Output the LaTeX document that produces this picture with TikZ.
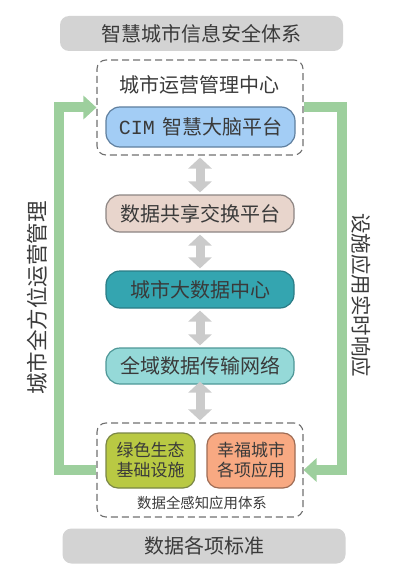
\documentclass[tikz,border=0pt]{standalone}
\usepackage{fontspec}
\setmainfont{Noto Sans CJK SC}
\newfontfamily\cimfont{Liberation Mono}
\usetikzlibrary{positioning,arrows.meta}

\definecolor{bargray}{HTML}{D3D3D3}
\definecolor{txtgray}{HTML}{3A3A3A}
\definecolor{dashgray}{HTML}{707070}
\definecolor{linkgray}{HTML}{CBCBCB}
\definecolor{flowgreen}{HTML}{9DCF9D}
\definecolor{cimblue}{HTML}{A3CDF5}
\definecolor{cimedge}{HTML}{5F7F9E}
\definecolor{sharepink}{HTML}{E8D5CC}
\definecolor{shareedge}{HTML}{8C8583}
\definecolor{datateal}{HTML}{34A5B0}
\definecolor{dataedge}{HTML}{2A7C86}
\definecolor{netcyan}{HTML}{95D9D8}
\definecolor{netedge}{HTML}{4E9797}
\definecolor{ecogreen}{HTML}{B9C943}
\definecolor{ecoedge}{HTML}{7A8646}
\definecolor{apporange}{HTML}{F8A982}
\definecolor{appedge}{HTML}{9E6C55}

\tikzset{
  greybar/.style={fill=bargray, rounded corners=9pt, inner sep=0pt,
    minimum width=283pt, minimum height=35pt, text=txtgray,
    font=\fontsize{20}{24}\selectfont},
  groupbox/.style={draw=dashgray, dashed, dash pattern=on 7pt off 4pt,
    line width=1.1pt, rounded corners=9pt, inner sep=0pt,
    minimum width=206pt},
  layerbox/.style={rounded corners=14pt, line width=1.2pt, inner sep=0pt,
    minimum width=188pt, minimum height=37pt, text=txtgray,
    font=\fontsize{20}{24}\selectfont},
  smallbox/.style={rounded corners=12pt, line width=1.2pt, inner sep=0pt,
    minimum width=89pt, minimum height=55pt, text=txtgray, align=center,
    font=\fontsize{17}{20}\selectfont},
  sidetext/.style={text=txtgray, inner sep=0pt,
    font=\fontsize{20.5}{24}\selectfont},
  link/.style={linkgray, line width=9pt, shorten <=2pt, shorten >=2pt,
    {Triangle[width=23pt,length=11pt]}-{Triangle[width=23pt,length=11pt]}},
  flow/.style={flowgreen, line width=10pt,
    -{Triangle[width=23pt,length=13pt]}}
}

\begin{document}
\begin{tikzpicture}[x=1pt,y=-1pt]
  \useasboundingbox (0,0) rectangle (409,583);

  % top and bottom bars
  \node[greybar] (security) at (201.5,33.5) {智慧城市信息安全体系};
  \node[greybar] (standard) at (204,546) {数据各项标准};

  % operation centre group
  \node[groupbox, minimum height=95pt] (ops) at (200,107.5) {};
  \node[text=txtgray, inner sep=0pt, font=\fontsize{20}{24}\selectfont]
    (opstitle) at (199,85) {城市运营管理中心};
  \node[layerbox, fill=cimblue, draw=cimedge, minimum width=189pt,
    minimum height=40pt] (cim) at (200.5,127)
    {{\cimfont\fontsize{20}{24}\selectfont CIM}\hspace{7pt}智慧大脑平台};

  % middle layers
  \node[layerbox, fill=sharepink, draw=shareedge] (share) at (200,213.5)
    {数据共享交换平台};
  \node[layerbox, fill=datateal, draw=dataedge] (bigdata) at (200,289.5)
    {城市大数据中心};
  \node[layerbox, fill=netcyan, draw=netedge, minimum height=36pt]
    (network) at (200,366) {全域数据传输网络};

  % sensing group
  \node[groupbox, minimum height=94pt] (sense) at (200,470) {};
  \node[smallbox, fill=ecogreen, draw=ecoedge] (eco) at (150.5,460.5)
    {绿色生态\\基础设施};
  \node[smallbox, fill=apporange, draw=appedge, minimum width=88pt]
    (apps) at (251,460.5) {幸福城市\\各项应用};
  \node[text=txtgray, inner sep=0pt, font=\fontsize{14.4}{17}\selectfont]
    (senselabel) at (202,503) {数据全感知应用体系};

  % links between layers
  \draw[link] (ops.south) -- (share.north);
  \draw[link] (share.south) -- (bigdata.north);
  \draw[link] (bigdata.south) -- (network.north);
  \draw[link] ([yshift=5pt]network.south) -- (sense.north);

  % feedback loops
  \draw[flow] (sense.west) -- ++(-37,0) |- (ops.west);
  \draw[flow] (ops.east) -- ++(38,0) |- (sense.east);
  \node[sidetext, rotate=90, font=\fontsize{21.5}{24}\selectfont]
    (mgmt) at (37,298) {城市全方位运营管理};
  \node[sidetext, rotate=-90] (response) at (361,295) {设施应用实时响应};
\end{tikzpicture}
\end{document}
